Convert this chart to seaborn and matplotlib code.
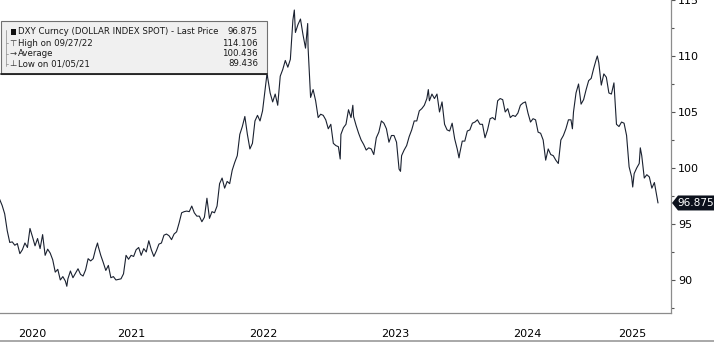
import matplotlib
matplotlib.use("Agg")
import matplotlib.pyplot as plt
import matplotlib.dates as mdates
from matplotlib.patches import Rectangle, Polygon
from matplotlib.lines import Line2D
from matplotlib.ticker import MultipleLocator, NullFormatter
import pandas as pd
import seaborn as sns

# DXY weekly closes (Friday), by calendar year
dxy_2020 = [97.2, 96.65, 95.9, 94.4, 93.35, 93.4, 93.1, 93.25, 92.35, 92.7, 93.3, 92.9, 94.6,
            93.85, 93.05, 93.7, 92.8, 94.05, 92.2, 92.75, 92.4, 91.8, 90.7, 90.95, 90.0, 90.3]
dxy_2021 = [89.9, 90.1, 90.8, 90.2, 90.6, 91.0, 90.5, 90.35, 90.9, 91.9, 91.7, 91.9, 92.8,
            93.0, 92.2, 91.55, 90.85, 91.3, 90.2, 90.3, 90.0, 90.05, 90.1, 90.55, 92.2, 91.85,
            92.2, 92.1, 92.7, 92.9, 92.2, 92.8, 92.5, 93.5, 92.7, 92.1, 92.6, 93.2, 93.3,
            94.0, 94.1, 93.95, 93.6, 94.1, 94.3, 95.1, 96.0, 96.1, 96.15, 96.1, 96.6, 96.0, 95.7]
dxy_2022 = [95.7, 95.2, 95.6, 97.3, 95.5, 96.1, 96.0, 96.6, 98.6, 99.1, 98.2, 98.8, 98.6,
            99.8, 100.5, 101.1, 103.0, 103.7, 104.6, 103.0, 101.7, 102.2, 104.2, 104.7, 104.2,
            105.1, 107.0, 108.1, 106.7, 105.9, 106.6, 105.6, 108.2, 108.8, 109.6, 109.0, 109.7,
            113.2, 112.1, 112.8, 113.3, 111.9, 110.7, 110.8, 106.3, 107.0, 106.0, 104.5, 104.8,
            104.7, 104.3, 103.5]
dxy_2023 = [103.9, 102.2, 102.0, 101.9, 103.0, 103.6, 103.9, 105.2, 104.5, 104.6, 103.8, 103.1,
            102.5, 102.1, 101.6, 101.8, 101.7, 101.2, 102.7, 103.2, 104.2, 104.0, 103.5, 102.3,
            102.9, 102.9, 102.3, 99.9, 101.1, 101.6, 102.0, 102.8, 103.4, 104.2, 104.2, 105.1,
            105.3, 105.6, 106.2, 106.0, 106.6, 106.2, 106.6, 105.0, 105.9, 103.9, 103.4, 103.3,
            104.0, 102.6, 101.7, 101.3]
dxy_2024 = [102.4, 102.4, 103.3, 103.4, 104.0, 104.1, 104.3, 103.9, 103.9, 102.7, 103.4, 104.4,
            104.5, 104.3, 106.0, 106.2, 106.1, 105.0, 105.3, 104.5, 104.7, 104.6, 104.9, 105.6,
            105.8, 105.9, 104.9, 104.1, 104.4, 104.3, 103.2, 103.1, 102.5, 100.7, 101.7, 101.2,
            101.1, 100.7, 100.4, 102.5, 102.9, 103.5, 104.3, 104.3, 105.0, 106.7, 107.5, 105.7,
            106.1, 107.0, 107.8, 108.0]
dxy_2025 = [108.9, 109.7, 109.4, 107.4, 108.4, 108.1, 106.7, 106.6, 107.6, 103.9, 103.7, 104.1,
            104.0, 102.9, 100.1, 99.2, 99.5, 100.0, 100.4, 101.1, 99.1, 99.4, 99.2, 98.2, 98.7,
            97.4]

# Intra-week extremes and the latest print
extra_dates = ["2021-01-05", "2021-03-31", "2022-07-14", "2022-09-27", "2022-11-03",
               "2023-02-01", "2023-03-08", "2023-07-18", "2023-10-03", "2023-12-27",
               "2024-11-05", "2025-01-13", "2025-04-21", "2025-05-12", "2025-06-30"]
extra_values = [89.436, 93.3, 108.6, 114.106, 112.9,
                100.8, 105.6, 99.7, 107.0, 100.9,
                103.5, 110.0, 98.3, 101.8, 96.875]

year_ranges = [("2020-07-03", "2020-12-25", dxy_2020), ("2021-01-01", "2021-12-31", dxy_2021),
               ("2022-01-07", "2022-12-30", dxy_2022), ("2023-01-06", "2023-12-29", dxy_2023),
               ("2024-01-05", "2024-12-27", dxy_2024), ("2025-01-03", "2025-06-27", dxy_2025)]

frames = []
for start, end, vals in year_ranges:
    d = pd.date_range(start, end, freq="W-FRI")
    assert len(d) == len(vals), (start, len(d), len(vals))
    frames.append(pd.DataFrame({"date": d, "price": vals}))
frames.append(pd.DataFrame({"date": pd.to_datetime(extra_dates), "price": extra_values}))
df = pd.concat(frames).sort_values("date").reset_index(drop=True)

last_price = 96.875
stats_labels = ["High on 09/27/22", "Average", "Low on 01/05/21"]
stats_values = ["114.106", "100.436", "89.436"]
title_text = "DXY Curncy (DOLLAR INDEX SPOT) - Last Price"

W, H = 714, 342
sns.set_theme(style="white")
plt.rcParams["font.family"] = ["DejaVu Sans"]

fig = plt.figure(figsize=(W / 100, H / 100), dpi=100)
ax = fig.add_axes([0, 29 / H, 671 / W, 313 / H])

sns.lineplot(data=df, x="date", y="price", ax=ax, color="#1a2130",
             linewidth=0.8, estimator=None)

x0, x1 = pd.Timestamp("2020-07-04"), pd.Timestamp("2025-08-05")
ax.set_xlim(x0, x1)
ax.set_ylim(87.05, 115.0)
ax.set_xlabel("")
ax.set_ylabel("")

for s in ("top", "left"):
    ax.spines[s].set_visible(False)
for s in ("right", "bottom"):
    ax.spines[s].set_color("#8c8c8c")
    ax.spines[s].set_linewidth(0.9)

# right-hand price axis
ax.yaxis.tick_right()
ax.yaxis.set_major_locator(MultipleLocator(5))
ax.yaxis.set_minor_locator(MultipleLocator(2.5))
ax.tick_params(axis="y", which="major", direction="out", length=3, width=0.8,
               color="#555555", pad=2, labelsize=8, labelcolor="black")
ax.tick_params(axis="y", which="minor", direction="out", length=2, width=0.8,
               color="#555555")

# year separators below the axis, quarterly marks on it
ax.xaxis.set_major_locator(mdates.YearLocator())
ax.xaxis.set_major_formatter(NullFormatter())
ax.xaxis.set_minor_locator(mdates.MonthLocator(bymonth=[4, 7, 10]))
ax.xaxis.set_minor_formatter(NullFormatter())
ax.tick_params(axis="x", which="major", direction="out", length=29 * 0.72, width=0.8,
               color="#dcdcdc")
ax.tick_params(axis="x", which="minor", direction="in", length=2, width=0.8,
               color="#8c8c8c")

for yr in range(2020, 2026):
    a = max(pd.Timestamp(f"{yr}-01-01"), x0)
    b = min(pd.Timestamp(f"{yr + 1}-01-01"), x1)
    mid = a + (b - a) / 2
    ax.text(mid, -21 / 313, str(yr), transform=ax.get_xaxis_transform(),
            ha="center", va="center", fontsize=8, color="black")

fig.add_artist(Line2D([0, 1], [0.6 / H, 0.6 / H], color="#9a9a9a", lw=1.2,
                      transform=fig.transFigure))


def px(x, y):
    return (x / W, 1 - y / H)


# last price tag
y_disp = ax.transData.transform((mdates.date2num(x1), last_price))[1]
yc = H - y_disp
tag = Polygon([px(672, yc), px(678, yc - 7.5), px(714, yc - 7.5), px(714, yc + 7.5),
               px(678, yc + 7.5)], closed=True, transform=fig.transFigure,
              fc="#0c111c", ec="none")
fig.add_artist(tag)
fig.text(*px(695.5, yc), f"{last_price:.3f}", color="white", fontsize=7.6,
         ha="center", va="center")

# legend box
x_l, y_t, x_r, y_b = 1, 21, 267, 74
box = Rectangle(px(x_l, y_b), (x_r - x_l) / W, (y_b - y_t) / H, transform=fig.transFigure,
                fc="#f0f0f0", ec="#707070", lw=0.8, zorder=5)
fig.add_artist(box)
fig.add_artist(Line2D([px(x_l, 0)[0], px(x_r, 0)[0]], [px(0, y_b)[1]] * 2,
                      color="#202020", lw=1.3, transform=fig.transFigure, zorder=6))

rows_y = [32, 43, 53.5, 64]
fig.add_artist(Rectangle(px(11, 35), 5 / W, 6 / H, transform=fig.transFigure,
                         fc="#111111", ec="none", zorder=6))
fig.add_artist(Line2D([px(5.5, 0)[0]] * 2, [px(0, 30)[1], px(0, 66)[1]],
                      color="#9a9a9a", lw=0.6, transform=fig.transFigure, zorder=6))
for yy in rows_y[1:]:
    fig.add_artist(Line2D([px(5.5, 0)[0], px(8, 0)[0]], [px(0, yy)[1]] * 2,
                          color="#9a9a9a", lw=0.6, transform=fig.transFigure, zorder=6))

txt_kw = dict(fontsize=6.2, color="#1a1a1a", va="center", zorder=7)
fig.text(*px(18, rows_y[0]), title_text, ha="left", **txt_kw)
fig.text(*px(258, rows_y[0]), f"{last_price:.3f}", ha="right", **txt_kw)
for sym, lab, val, yy in zip(["\u22a4", "\u2192", "\u22a5"], stats_labels, stats_values,
                             rows_y[1:]):
    fig.text(*px(12.5, yy), sym, ha="center", fontsize=6, color="#333333", va="center",
             zorder=7)
    fig.text(*px(18, yy), lab, ha="left", **txt_kw)
    fig.text(*px(258, yy), val, ha="right", **txt_kw)

fig.savefig("out.png", dpi=100)
